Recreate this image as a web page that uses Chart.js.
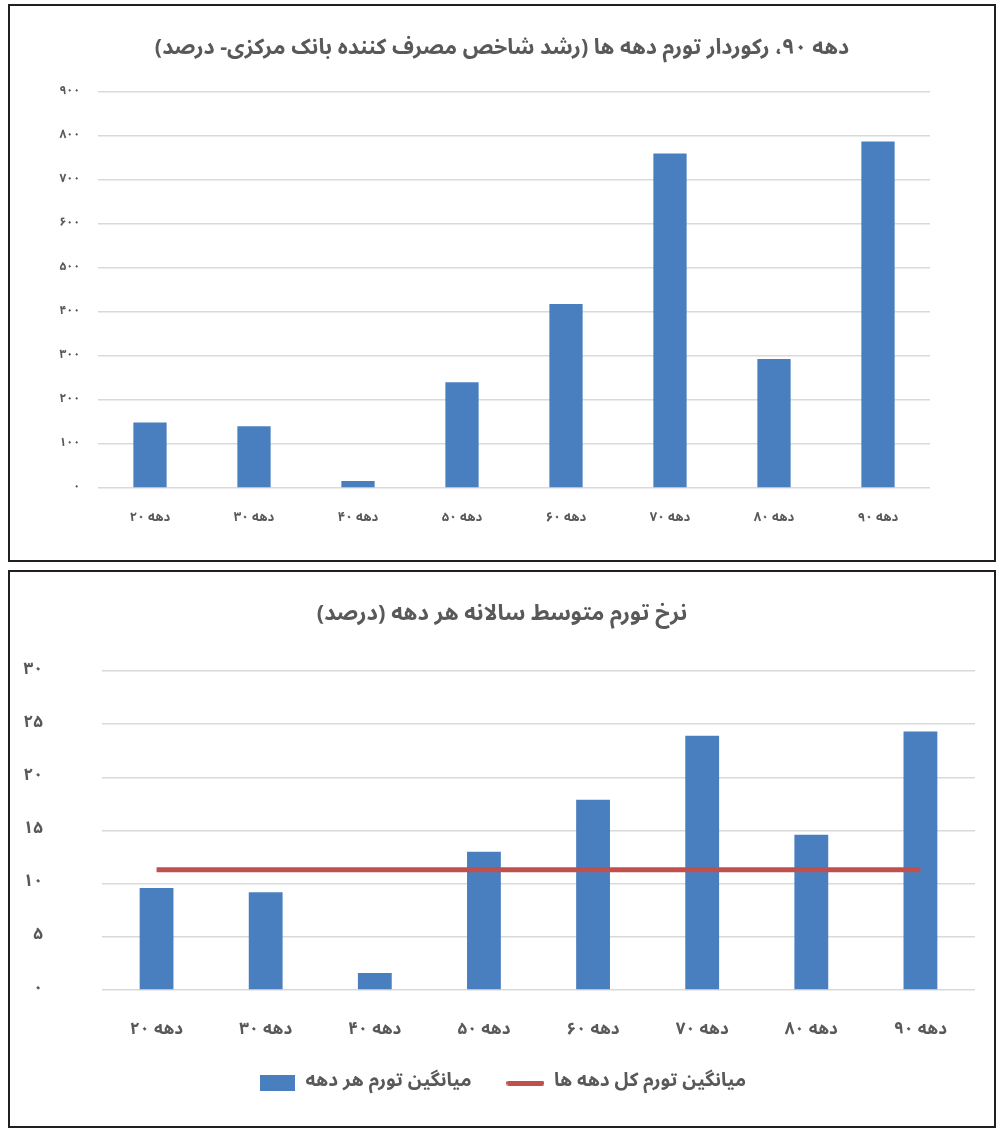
<!DOCTYPE html>
<html><head><meta charset="utf-8">
<script src="https://cdn.jsdelivr.net/npm/chart.js@4.4.1/dist/chart.umd.min.js"></script>
<style>
html,body{margin:0;padding:0;background:#fff;}
body{width:1005px;height:1136px;position:relative;overflow:hidden;}
.frame{position:absolute;left:8px;width:988px;height:558px;border:2px solid #231f20;box-sizing:border-box;background:#fff;}
#f1{top:4px;} #f2{top:570px;}
canvas{display:block;}
</style></head><body>
<div class="frame" id="f1"><canvas id="c1" width="984" height="554"></canvas></div>
<div class="frame" id="f2"><canvas id="c2" width="984" height="554"></canvas></div>
<script>
// ---- data ----
const categories = ['دهه ۲۰','دهه ۳۰','دهه ۴۰','دهه ۵۰','دهه ۶۰','دهه ۷۰','دهه ۸۰','دهه ۹۰'];
const cpiGrowth = [149, 140, 16, 240, 418, 760, 293, 787];
const avgAnnualInflation = [9.6, 9.2, 1.6, 13.0, 17.9, 23.9, 14.6, 24.3];
const overallAverage = [11.3, 11.3, 11.3, 11.3, 11.3, 11.3, 11.3, 11.3];
const topTickLabels = ['۰','۱۰۰','۲۰۰','۳۰۰','۴۰۰','۵۰۰','۶۰۰','۷۰۰','۸۰۰','۹۰۰'];
const bottomTickLabels = ['۰','۵','۱۰','۱۵','۲۰','۲۵','۳۰'];
const title1 = 'دهه ۹۰، رکوردار تورم دهه ها (رشد شاخص مصرف کننده بانک مرکزی- درصد)';
const title2 = 'نرخ تورم متوسط سالانه هر دهه (درصد)';
const legendLabels = ['میانگین تورم هر دهه', 'میانگین تورم کل دهه ها'];

// ---- styles ----
const FONT = '"Noto Sans Arabic", "DejaVu Sans", sans-serif';
const TXT = '#595959';
const BLUE = '#4a7fbf';
const RED = '#c0504d';
const GRID = '#d9d9d9';

function marker(w, h, color, r) {
  const c = document.createElement('canvas');
  c.width = w; c.height = h;
  const x = c.getContext('2d');
  x.fillStyle = color;
  if (r) { x.beginPath(); x.roundRect(0, 0, w, h, r); x.fill(); }
  else x.fillRect(0, 0, w, h);
  return c;
}
const blueMarker = marker(35, 16, BLUE, 0);
const redMarker = marker(38, 5, RED, 2.5);

// center title and legend across the full canvas width (ignoring side padding)
const fullWidthBoxes = {
  id: 'fullWidthBoxes',
  afterLayout(chart) {
    [chart.titleBlock, chart.legend].forEach(b => {
      if (b && b.options && b.options.display) { b.left = 0; b.right = chart.width; b.width = chart.width; }
    });
  }
};

new Chart(document.getElementById('c1'), {
  type: 'bar',
  plugins: [fullWidthBoxes],
  data: {
    labels: categories,
    datasets: [{ data: cpiGrowth, backgroundColor: BLUE, borderWidth: 0,
      categoryPercentage: 1, barPercentage: 0.32 }]
  },
  options: {
    responsive: false, animation: false,
    layout: { padding: { left: 0, right: 64, top: 0, bottom: 0 } },
    plugins: {
      legend: { display: false }, tooltip: { enabled: false },
      title: { display: true, text: title1, color: TXT,
        font: { family: FONT, size: 21.5, weight: 'bold', lineHeight: 1.2 },
        padding: { top: 32, bottom: 28 } }
    },
    scales: {
      x: { grid: { display: false }, border: { display: false },
        ticks: { color: TXT, font: { family: FONT, size: 13, weight: 'bold' }, padding: 15, maxRotation: 0 },
        afterFit(s) { s.height = 72; } },
      y: { min: 0, max: 900,
        ticks: { stepSize: 100, color: TXT, font: { family: FONT, size: 12, weight: 'bold' }, padding: 18,
          callback: (v, i) => topTickLabels[i] },
        grid: { color: GRID, lineWidth: 1.5, drawTicks: false }, border: { display: false },
        afterFit(s) { s.width = 88; } }
    }
  }
});

new Chart(document.getElementById('c2'), {
  type: 'bar',
  plugins: [fullWidthBoxes],
  data: {
    labels: categories,
    datasets: [
      { type: 'bar', label: legendLabels[0], data: avgAnnualInflation, backgroundColor: BLUE, borderWidth: 0,
        categoryPercentage: 1, barPercentage: 0.31, order: 1 },
      { type: 'line', label: legendLabels[1], data: overallAverage, borderColor: RED, borderWidth: 5,
        pointRadius: 0, fill: false, order: 0 }
    ]
  },
  options: {
    responsive: false, animation: false,
    layout: { padding: { left: 0, right: 19, top: 0, bottom: 23.5 } },
    plugins: {
      tooltip: { enabled: false },
      title: { display: true, text: title2, color: TXT,
        font: { family: FONT, size: 22, weight: 'bold', lineHeight: 1.2 },
        padding: { top: 31, bottom: 41.6 } },
      legend: { display: true, position: 'bottom',
        labels: { usePointStyle: true, pointStyleWidth: 38, padding: 35, color: TXT,
          font: { family: FONT, size: 19, weight: 'bold' },
          generateLabels: () => [
            { text: legendLabels[0], pointStyle: blueMarker, fillStyle: BLUE, strokeStyle: BLUE, lineWidth: 0, hidden: false, datasetIndex: 0, fontColor: TXT },
            { text: legendLabels[1], pointStyle: redMarker, fillStyle: RED, strokeStyle: RED, lineWidth: 0, hidden: false, datasetIndex: 1, fontColor: TXT }
          ] } }
    },
    scales: {
      x: { grid: { display: false }, border: { display: false },
        ticks: { color: TXT, font: { family: FONT, size: 17, weight: 'bold' }, padding: 23, maxRotation: 0 },
        afterFit(s) { s.height = 48.5; } },
      y: { min: 0, max: 30,
        ticks: { stepSize: 5, color: TXT, font: { family: FONT, size: 17, weight: 'bold' }, padding: 59,
          callback: (v, i) => bottomTickLabels[i] },
        grid: { color: GRID, lineWidth: 1.5, drawTicks: false }, border: { display: false },
        afterFit(s) { s.width = 92; } }
    }
  }
});
</script>
</body></html>
